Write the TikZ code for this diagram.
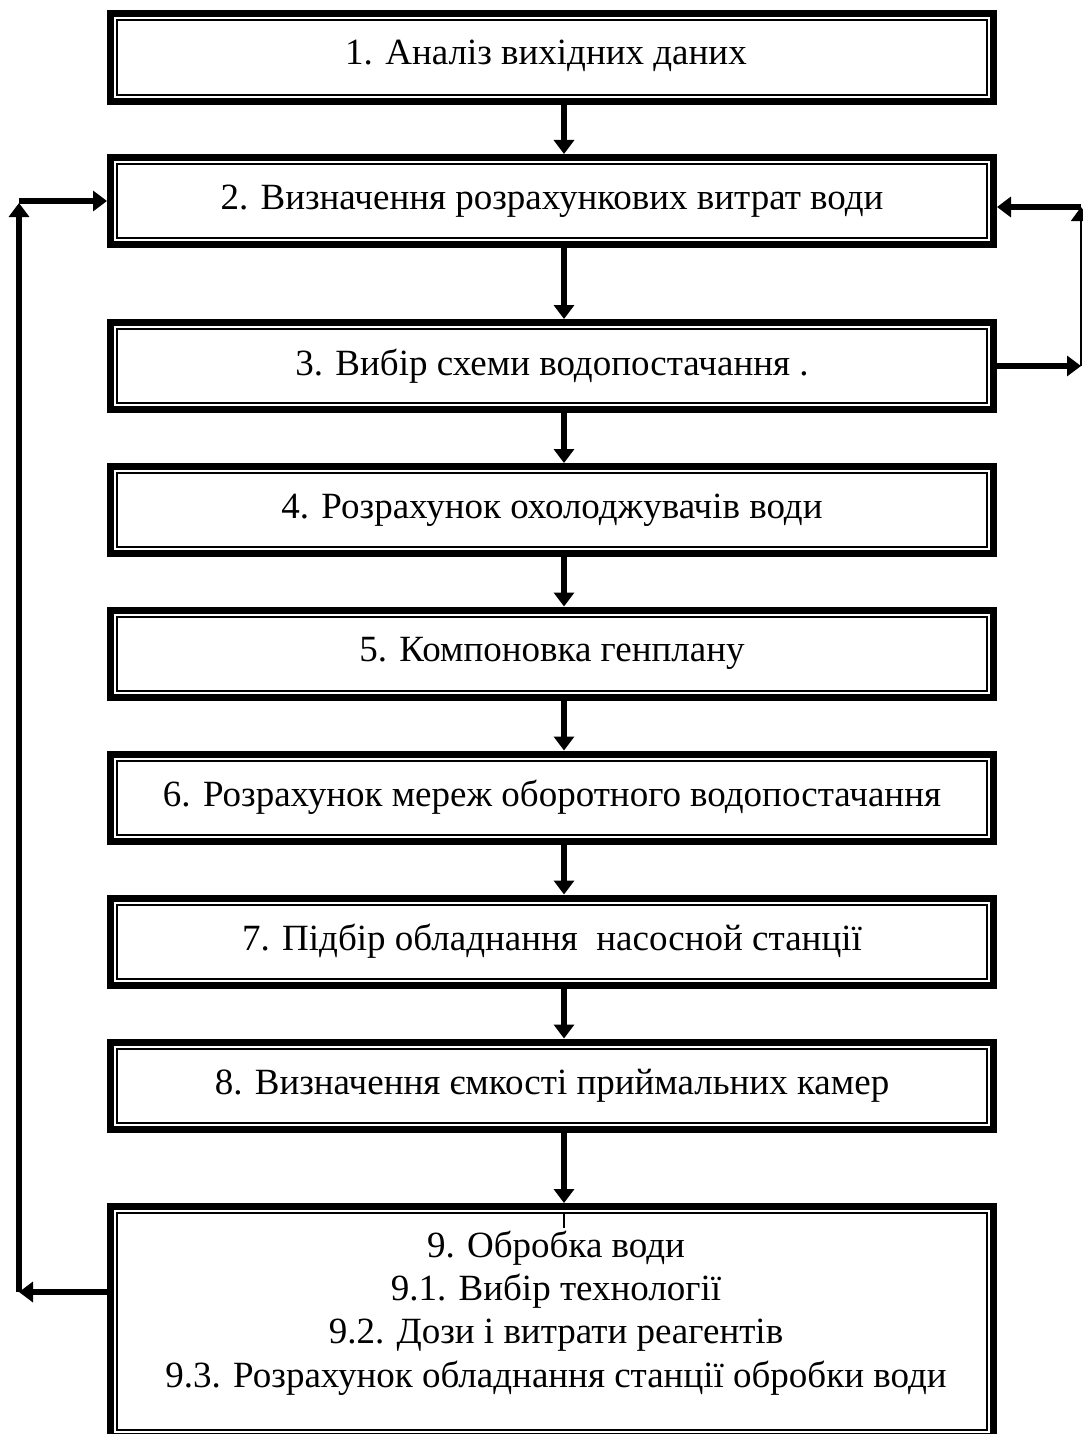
\documentclass[tikz,border=0pt]{standalone}
\usepackage{fontspec}
\setmainfont{Liberation Serif}
\usetikzlibrary{arrows.meta}
\begin{document}
\begin{tikzpicture}[x=1pt,y=-1pt,
  box/.style={draw, line width=2pt, inner sep=0pt, outer sep=10pt,
    minimum width=870pt, minimum height=74pt,
    font=\fontsize{37}{43.3}\selectfont, align=center},
  label/.style={inner sep=0pt, font=\fontsize{37}{43.3}\selectfont, align=center},
  rim/.style={line width=7pt},
  arr/.style={line width=6pt, -{Triangle[length=14pt,width=20pt]}},
  thinline/.style={line width=1.5pt}]
\useasboundingbox (0,0) rectangle (1083,1434);
\clip (0,0) rectangle (1083,1434);
\node[box, minimum height=75pt] (b1) at (552,57.5) {};
\node[label] (l1) at (546,56) {1. Аналіз вихідних даних};
\node[box] (b2) at (552,201) {2. Визначення розрахункових витрат води};
\node[box] (b3) at (552,366) {3. Вибір схеми водопостачання .};
\node[box] (b4) at (552,510) {4. Розрахунок охолоджувачів води};
\node[box] (b5) at (552,653.5) {5. Компоновка генплану};
\node[box] (b6) at (552,797.5) {6. Розрахунок мереж оборотного водопостачання};
\node[box] (b7) at (552,941.5) {7. Підбір обладнання\ \ насосной станції};
\node[box] (b8) at (552,1085.5) {8. Визначення ємкості приймальних камер};
\node[box, minimum height=217pt] (b9) at (552,1321.5) {};
\node[label] (l9) at (556,1313) {9. Обробка води\\9.1. Вибір технології\\9.2. Дози і витрати реагентів\\9.3. Розрахунок обладнання станції обробки води};
\foreach \i in {1,...,9}
  \draw[rim] ([shift={(3.5pt,-3.5pt)}]b\i.north west) rectangle ([shift={(-3.5pt,3.5pt)}]b\i.south east);
\coordinate (ax) at (564,0);
\foreach \i/\j in {1/2,2/3,3/4,4/5,5/6,6/7,7/8,8/9}
  \draw[arr] (b\i.south -| ax) -- (b\j.north -| ax);
\coordinate (t9a) at (564,1213);
\coordinate (t9b) at (564,1228);
\draw[line width=1.2pt] (t9a) -- (t9b);
% left feedback
\coordinate (L1) at (19,1292);
\coordinate (L2) at (19,201);
\coordinate (L2t) at (19,203);
\draw[arr] (b9.west |- L1) -- (L1);
\draw[arr] (L1) -- (L2t);
\draw[arr] (L2) -- (b2.west);
% right feedback
\coordinate (R1) at (1081,366);
\coordinate (R2) at (1081,207);
\draw[arr] (b3.east) -- (R1);
\draw[thinline, -{Triangle[length=14pt,width=20pt]}] (R1) -- (R2);
\draw[arr] (R2) -- (b2.east |- R2);
\end{tikzpicture}
\end{document}
